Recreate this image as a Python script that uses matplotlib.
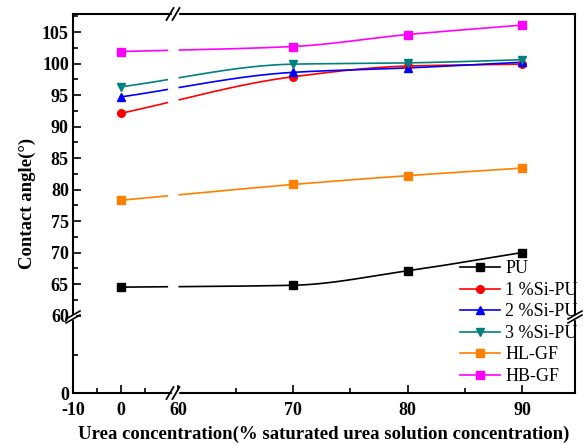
import numpy as np
import matplotlib
matplotlib.use("Agg")
import matplotlib.pyplot as plt
from matplotlib.lines import Line2D

# ---------------- data ----------------
urea = [0, 70, 80, 90]
pu = [64.5, 64.8, 67.1, 70.0]
si1 = [92.1, 97.9, 99.6, 99.9]
si2 = [94.7, 98.6, 99.3, 100.2]
si3 = [96.3, 99.9, 100.1, 100.6]
hl_gf = [78.3, 80.8, 82.2, 83.4]
hb_gf = [101.9, 102.7, 104.6, 106.1]
labels = ["PU", "1 %Si-PU", "2 %Si-PU", "3 %Si-PU", "HL-GF", "HB-GF"]
series = [pu, si1, si2, si3, hl_gf, hb_gf]
colors = ["#000000", "#FF0000", "#0000FF", "#008080", "#FF8000", "#FF00FF"]
markers = ["s", "o", "^", "v", "s", "s"]

xticks_major = [-10, 0, 60, 70, 80, 90]
xticks_minor = [-5, 5, 65, 75, 85]
yticks_major = [0, 60, 65, 70, 75, 80, 85, 90, 95, 100, 105]
yticks_minor = [30, 62.5, 67.5, 72.5, 77.5, 82.5, 87.5, 92.5, 97.5, 102.5, 107.5]

# ---------------- broken scales ----------------
XK = np.array([-10.0, 10.5, 59.7, 94.6])
XP = np.array([73.0, 171.4, 175.0, 575.0])
YK = np.array([0.0, 59.5, 60.0, 107.86])
YP = np.array([0.0, 75.5, 77.5, 379.0])


def pw(v, a, b):
    v = np.asarray(v, dtype=float)
    out = np.interp(v, a, b)
    s0 = (b[1] - b[0]) / (a[1] - a[0])
    s1 = (b[-1] - b[-2]) / (a[-1] - a[-2])
    out = np.where(v < a[0], b[0] + (v - a[0]) * s0, out)
    out = np.where(v > a[-1], b[-1] + (v - a[-1]) * s1, out)
    return out


def xf(v):
    return pw(v, XK, XP)


def xi(v):
    return pw(v, XP, XK)


def yf(v):
    return pw(v, YK, YP)


def yi(v):
    return pw(v, YP, YK)


def monotone_cubic(xk, yk, xq):
    xk = np.asarray(xk, float)
    yk = np.asarray(yk, float)
    n = len(xk)
    h = np.diff(xk)
    d = np.diff(yk) / h
    m = np.zeros(n)
    m[0], m[-1] = d[0], d[-1]
    for i in range(1, n - 1):
        if d[i - 1] * d[i] <= 0:
            m[i] = 0
        else:
            w1 = 2 * h[i] + h[i - 1]
            w2 = h[i] + 2 * h[i - 1]
            m[i] = (w1 + w2) / (w1 / d[i - 1] + w2 / d[i])
    out = np.empty_like(xq)
    for j, x in enumerate(xq):
        i = min(max(np.searchsorted(xk, x) - 1, 0), n - 2)
        t = (x - xk[i]) / h[i]
        h00 = 2 * t ** 3 - 3 * t ** 2 + 1
        h10 = t ** 3 - 2 * t ** 2 + t
        h01 = -2 * t ** 3 + 3 * t ** 2
        h11 = t ** 3 - t ** 2
        out[j] = h00 * yk[i] + h10 * h[i] * m[i] + h01 * yk[i + 1] + h11 * h[i] * m[i + 1]
    return out


plt.rcParams["font.family"] = ["Liberation Serif", "DejaVu Serif"]
plt.rcParams["axes.unicode_minus"] = False

fig = plt.figure(figsize=(5.87, 4.45), dpi=100)
W, H = 587, 445
ax = fig.add_axes([73 / W, (H - 393) / H, (575 - 73) / W, (393 - 14) / H])
ax.set_xscale("function", functions=(xf, xi))
ax.set_yscale("function", functions=(yf, yi))
ax.set_xlim(-10, 94.6)
ax.set_ylim(0, 107.86)

for ys, c, m, lab in zip(series, colors, markers, labels):
    px = xf(urea)
    pq = np.linspace(px[0], px[-1], 400)
    yq = monotone_cubic(px, ys, pq)
    xq = xi(pq)
    yq = np.where((xq > 9.8) & (xq < 60.0), np.nan, yq)
    ax.plot(xq, yq, color=c, lw=1.2, zorder=3)
    ax.plot(urea, ys, linestyle="none", marker=m, color=c, ms=5.5, zorder=4)

ax.set_xticks(xticks_major)
ax.set_xticks(xticks_minor, minor=True)
ax.set_yticks(yticks_major)
ax.set_yticks(yticks_minor, minor=True)
ax.tick_params(which="both", direction="in", top=False, right=False, width=1.2)
ax.tick_params(which="major", length=6, labelsize=13, pad=3)
ax.tick_params(axis="x", which="major", pad=6.5)
ax.tick_params(which="minor", length=3.5)
for t in ax.get_xticklabels() + ax.get_yticklabels():
    t.set_fontweight("bold")
for s in ax.spines.values():
    s.set_linewidth(1.5)

ax.set_xlabel("Urea concentration(% saturated urea solution concentration)",
              fontsize=13.5, fontweight="bold", labelpad=4.5)
ax.set_ylabel("Contact angle(°)", fontsize=13.5, fontweight="bold", labelpad=4)

# ---- break marks ----
def px2ax(x, y):
    return (x - 73) / (575 - 73), (393 - y) / (393 - 14)

tr = ax.transAxes
for ypix in (393, 14):
    x0, y0 = px2ax(171.5, ypix + 1)
    x1, y1 = px2ax(177.5, ypix - 1)
    ax.add_patch(plt.Rectangle((x0, y0 - 0.01), x1 - x0, 0.02, transform=tr,
                               color="white", clip_on=False, zorder=5))
    for xc in (170, 176):
        a = px2ax(xc - 3.5, ypix + 6)
        b = px2ax(xc + 3.5, ypix - 6)
        ax.plot([a[0], b[0]], [a[1], b[1]], transform=tr, color="black",
                lw=1.3, clip_on=False, zorder=6)
for xpix in (73, 575):
    x0, y0 = px2ax(xpix - 1, 319)
    x1, y1 = px2ax(xpix + 1, 315)
    ax.add_patch(plt.Rectangle((x0 - 0.005, y0), 0.01, y1 - y0, transform=tr,
                               color="white", clip_on=False, zorder=5))
    for yc in (319, 315):
        a = px2ax(xpix - 7, yc + 4)
        b = px2ax(xpix + 7, yc - 4)
        ax.plot([a[0], b[0]], [a[1], b[1]], transform=tr, color="black",
                lw=1.2, clip_on=False, zorder=6)

handles = [Line2D([], [], color=c, marker=m, lw=1.2, ms=5.5)
           for c, m in zip(colors, markers)]
ax.legend(handles, labels, loc="upper left", bbox_to_anchor=(0.771, 0.35),
          frameon=False, fontsize=13, borderpad=0, borderaxespad=0,
          handlelength=2.2, handletextpad=0.3, labelspacing=0.25)

fig.savefig("out.png", dpi=100)
